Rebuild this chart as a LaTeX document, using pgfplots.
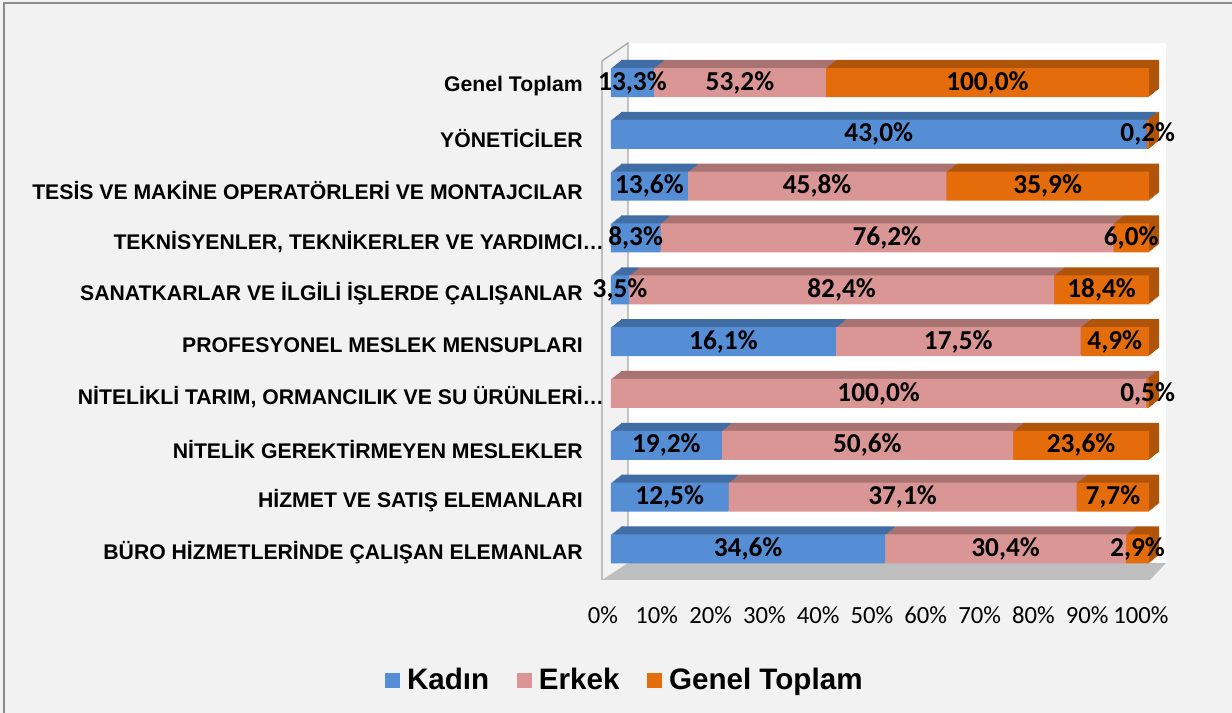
\documentclass[border=0pt]{standalone}
\usepackage{pgfplots}
\pgfplotsset{compat=1.18}
\usepackage{pgfplotstable}
\usepackage{fontspec}
\setmainfont{Liberation Sans}
\newfontfamily\calfont{Carlito}

\definecolor{bgc}{HTML}{F2F2F2}
\definecolor{framec}{HTML}{8C8C8C}
\definecolor{wallc}{HTML}{A6A6A6}
\definecolor{floorc}{HTML}{BFBFBF}
\definecolor{kad}{HTML}{558ED5}
\definecolor{kadT}{HTML}{416DA5}
\definecolor{erk}{HTML}{D99694}
\definecolor{erkT}{HTML}{A97371}
\definecolor{gen}{HTML}{E46C0A}
\definecolor{genT}{HTML}{B0540A}

% y: 0 = bottom category ... 9 = top category; k = Kadın, e = Erkek, g = Genel Toplam
\pgfplotstableread{
y k e g
0 34.6 30.4 2.9
1 12.5 37.1 7.7
2 19.2 50.6 23.6
3 0 100.0 0.5
4 16.1 17.5 4.9
5 3.5 82.4 18.4
6 8.3 76.2 6.0
7 13.6 45.8 35.9
8 43.0 0 0.2
9 13.3 53.2 100.0
}\data
\pgfplotstablecreatecol[create col/expr={100*\thisrow{k}/(\thisrow{k}+\thisrow{e}+\thisrow{g})}]{kn}\data
\pgfplotstablecreatecol[create col/expr={100*\thisrow{e}/(\thisrow{k}+\thisrow{e}+\thisrow{g})}]{en}\data
\pgfplotstablecreatecol[create col/expr={100*\thisrow{g}/(\thisrow{k}+\thisrow{e}+\thisrow{g})}]{gn}\data
\pgfplotstablecreatecol[create col/expr={0.5*\thisrow{kn}}]{km}\data
\pgfplotstablecreatecol[create col/expr={\thisrow{kn}+0.5*\thisrow{en}}]{em}\data
\pgfplotstablecreatecol[create col/expr={\thisrow{kn}+\thisrow{en}+0.5*\thisrow{gn}}]{gm}\data

\pgfplotsset{
  base/.style={
    scale only axis, width=403.5pt, height=388.7pt,
    xmin=0, xmax=100, ymin=-0.5, ymax=9.5,
    anchor=south west, at={(458.25pt,103.6pt)},
    axis line style={draw=none}, major tick length=0pt, clip=false,
  },
  lbl/.style={draw=none, mark=none, nodes near coords={\pgfmathprintnumber[fixed,fixed zerofill,precision=1,use comma,assume math mode=true]{\pgfplotspointmeta}\%},
    every node near coord/.append style={anchor=center, inner sep=0pt, text=black, font=\calfont\bfseries\fontsize{20.5}{20.5}\selectfont}},
}

\begin{document}
\begin{tikzpicture}
\useasboundingbox (0,0) rectangle (924pt,534.75pt);
\fill[bgc] (0,0) rectangle (924pt,534.75pt);
\draw[framec, line width=1.5pt] (3pt,-20pt) rectangle (950pt,532.5pt);
% back wall and floor
\fill[white] (471pt,112.5pt) rectangle (874.5pt,502.5pt);
\fill[floorc] (451.5pt,99.75pt) -- (471pt,112.5pt) -- (874.5pt,112.5pt) -- (862.5pt,99.75pt) -- cycle;
\draw[wallc, line width=1pt] (451.5pt,99.75pt) -- (451.5pt,489pt) -- (471pt,502.5pt) -- (471pt,112.5pt);

% 3D depth of the bars (top and side faces)
\foreach \t in {8,7,...,1}{
\begin{axis}[base, hide axis, xbar stacked, bar width=21.75pt,
  xshift=\t*0.95pt, yshift=\t*0.75pt]
\addplot[fill=kadT, draw=none] table[x=kn, y=y]{\data};
\addplot[fill=erkT, draw=none] table[x=en, y=y]{\data};
\addplot[fill=genT, draw=none] table[x=gn, y=y]{\data};
\end{axis}
}

% front faces
\begin{axis}[base, xbar stacked, bar width=21.75pt,
  xtick={0,10,...,100},
  xticklabels={0\%,10\%,20\%,30\%,40\%,50\%,60\%,70\%,80\%,90\%,100\%},
  xticklabel style={anchor=center, yshift=-30pt, xshift=-6pt, inner sep=0pt, font=\calfont\fontsize{18.5}{18.5}\selectfont},
  ytick={0,...,9},
  yticklabels={
    BÜRO HİZMETLERİNDE ÇALIŞAN ELEMANLAR,
    HİZMET VE SATIŞ ELEMANLARI,
    NİTELİK GEREKTİRMEYEN MESLEKLER,
    {NİTELİKLİ TARIM, ORMANCILIK VE SU ÜRÜNLERİ\rlap{…}},
    PROFESYONEL MESLEK MENSUPLARI,
    SANATKARLAR VE İLGİLİ İŞLERDE ÇALIŞANLAR,
    {TEKNİSYENLER, TEKNİKERLER VE YARDIMCI\rlap{…}},
    TESİS VE MAKİNE OPERATÖRLERİ VE MONTAJCILAR,
    YÖNETİCİLER,
    Genel Toplam},
  yticklabel style={anchor=east, xshift=-21pt, yshift=-3pt, inner sep=0pt, font=\bfseries\fontsize{15.9}{15.9}\selectfont},
  legend image code/.code={\fill[#1] (0pt,-5.6pt) rectangle (11.25pt,5.6pt);},
  legend style={at={(0.026,-0.203)}, anchor=center, draw=none, fill=none,
    legend columns=-1, font=\bfseries\fontsize{22.2}{22.2}\selectfont,
    /tikz/every odd column/.append style={column sep=3.5pt},
    /tikz/every even column/.append style={column sep=18.4pt}},
]
\addplot[fill=kad, draw=none] table[x=kn, y=y]{\data};
\addplot[fill=erk, draw=none] table[x=en, y=y]{\data};
\addplot[fill=gen, draw=none] table[x=gn, y=y]{\data};
\legend{Kadın, Erkek, Genel Toplam}
\end{axis}

% value labels
\begin{axis}[base, hide axis]
\addplot[lbl, point meta=\thisrow{k}, restrict expr to domain={\thisrow{k}}{0.01:1000}] table[x=km, y=y]{\data};
\addplot[lbl, point meta=\thisrow{e}, restrict expr to domain={\thisrow{e}}{0.01:1000}] table[x=em, y=y]{\data};
\addplot[lbl, point meta=\thisrow{g}, restrict expr to domain={\thisrow{g}}{0.01:1000}] table[x=gm, y=y]{\data};
\end{axis}
\end{tikzpicture}
\end{document}
